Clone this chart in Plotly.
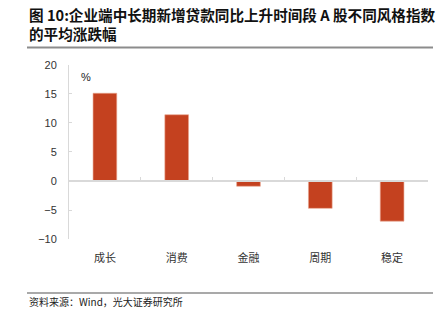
import plotly.graph_objects as go

W, H = 447, 328
categories = ["成长", "消费", "金融", "周期", "稳定"]
values = [15.1, 11.4, -0.9, -4.7, -6.9]
y_ticks = [-10, -5, 0, 5, 10, 15, 20]

title_text = "<b>图 10:企业端中长期新增贷款同比上升时间段 A 股不同风格指数<br>的平均涨跌幅</b>"
source_text = "资料来源：Wind，光大证券研究所"

x0, x1 = 69 / W, 428 / W
yb, yt = 1 - 242 / H, 1 - 61 / H
ymin, ymax = -10, 20
zero_pos = yb + (0 - ymin) / (ymax - ymin) * (yt - yb)

bar_color = "#C4411F"
grid_color = "#D9D9D9"

fig = go.Figure()
fig.add_trace(go.Bar(x=categories, y=values, width=0.33,
                     marker=dict(color=bar_color, line=dict(color="#E9A58E", width=0.6)),
                     showlegend=False))
fig.add_trace(go.Bar(x=categories, y=values, xaxis="x2", opacity=0, showlegend=False,
                     hoverinfo="skip"))

fig.update_layout(
    width=W, height=H,
    margin=dict(l=0, r=0, t=0, b=0),
    paper_bgcolor="white", plot_bgcolor="white",
    font=dict(family="Liberation Sans, Arial, sans-serif", color="#333333", size=11),
    bargap=0.67,
    xaxis=dict(domain=[x0, x1], type="category", categoryarray=categories,
               range=[-0.5, 4.5], showline=False, showgrid=False, zeroline=False,
               ticks="outside", ticklen=9, tickcolor="rgba(0,0,0,0)",
               tickfont=dict(family="Noto Sans CJK SC", size=11, color="#333333")),
    xaxis2=dict(domain=[x0, x1], overlaying="x", anchor="free", position=zero_pos,
                type="category", categoryarray=categories, range=[-0.5, 4.5],
                showline=True, linecolor=grid_color, linewidth=1.5,
                ticks="inside", ticklen=3, tickcolor=grid_color, tickson="boundaries",
                showticklabels=False, showgrid=False, zeroline=False),
    yaxis=dict(domain=[yb, yt], range=[ymin, ymax], tickvals=y_ticks,
               showline=True, linecolor=grid_color, linewidth=1,
               ticks="inside", ticklen=3, tickcolor=grid_color,
               showgrid=False, zeroline=False,
               tickfont=dict(family="Liberation Sans, Arial, sans-serif", size=11, color="#333333"),
               ticklabelstandoff=9),
)

fig.add_annotation(text=title_text, xref="paper", yref="paper", x=27 / W, y=1 - 19 / H,
                   xanchor="left", yanchor="middle", align="left", showarrow=False,
                   font=dict(family="Noto Sans CJK SC", size=14.6, color="#111111"))
fig.add_annotation(text="%", xref="paper", yref="paper", x=86 / W, y=1 - 74 / H,
                   xanchor="center", yanchor="middle", showarrow=False,
                   font=dict(family="Liberation Sans, Arial, sans-serif", size=11, color="#222222"))
fig.add_annotation(text=source_text, xref="paper", yref="paper", x=27 / W, y=1 - 307 / H,
                   xanchor="left", yanchor="middle", showarrow=False,
                   font=dict(family="Noto Sans CJK SC", size=10, color="#222222"))

fig.add_shape(type="line", xref="paper", yref="paper", x0=27 / W, x1=433 / W,
              y0=1 - 43 / H, y1=1 - 43 / H, line=dict(color="#8C8C8C", width=2))
fig.add_shape(type="line", xref="paper", yref="paper", x0=27 / W, x1=433 / W,
              y0=1 - 298 / H, y1=1 - 298 / H, line=dict(color="#8C8C8C", width=1.5))

fig.write_html("out.html")
